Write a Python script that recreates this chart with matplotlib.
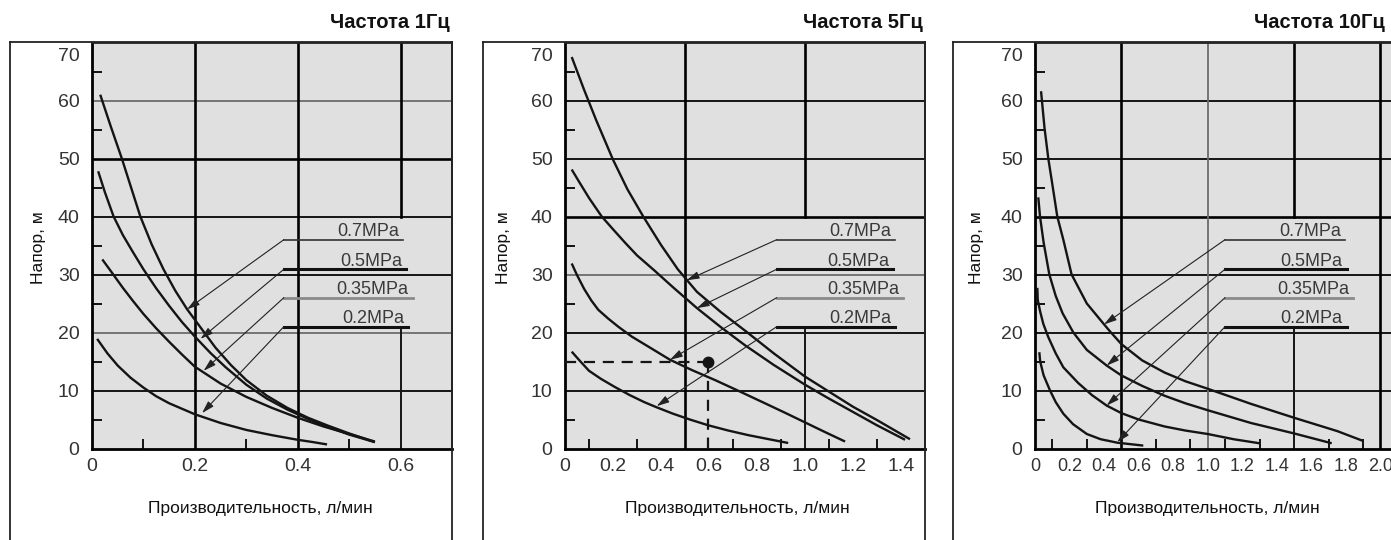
import numpy as np
import matplotlib
matplotlib.use("Agg")
import matplotlib.pyplot as plt
from matplotlib.transforms import offset_copy

plt.rcParams['font.family'] = ['Liberation Sans', 'DejaVu Sans']

W, H = 1391, 540

# ── data ────────────────────────────────────────────────────────────────────
titles = ["Частота 1Гц", "Частота 5Гц", "Частота 10Гц"]
pressures = ["0.7MPa", "0.5MPa", "0.35MPa", "0.2MPa"]
ylabel = "Напор, м"
xlabel = "Производительность, л/мин"

y_ticks = [0, 10, 20, 30, 40, 50, 60, 70]
y_minor = [5, 15, 25, 35, 45, 55, 65]

# 1 Hz
q1_07 = [0.016, 0.037, 0.058, 0.076, 0.094, 0.116, 0.139, 0.162, 0.185, 0.21, 0.24, 0.27, 0.3, 0.34, 0.38, 0.42, 0.46, 0.5, 0.55]
h1_07 = [61.0, 55.4, 50.0, 45.0, 40.0, 35.2, 30.9, 27.2, 24.0, 21.0, 17.4, 14.4, 11.8, 9.1, 7.0, 5.3, 3.9, 2.6, 1.1]
q1_05 = [0.012, 0.025, 0.042, 0.06, 0.08, 0.1, 0.125, 0.15, 0.175, 0.2, 0.23, 0.26, 0.3, 0.34, 0.38, 0.42, 0.46, 0.5, 0.55]
h1_05 = [47.8, 44.2, 40.0, 36.8, 33.8, 30.9, 27.6, 24.6, 21.8, 19.3, 16.5, 14.0, 11.0, 8.6, 6.7, 5.1, 3.7, 2.4, 1.1]
q1_035 = [0.02, 0.034, 0.06, 0.08, 0.1, 0.125, 0.15, 0.175, 0.2, 0.25, 0.3, 0.35, 0.4, 0.45, 0.5, 0.55]
h1_035 = [32.6, 30.9, 27.7, 25.4, 23.2, 20.7, 18.4, 16.2, 14.1, 11.2, 8.9, 7.0, 5.3, 3.8, 2.5, 1.2]
q1_02 = [0.01, 0.03, 0.05, 0.075, 0.1, 0.125, 0.15, 0.2, 0.25, 0.3, 0.35, 0.4, 0.43, 0.457]
h1_02 = [18.9, 16.4, 14.3, 12.2, 10.5, 9.0, 7.8, 5.9, 4.4, 3.2, 2.3, 1.5, 1.1, 0.7]

# 5 Hz
q5_07 = [0.028, 0.08, 0.13, 0.2, 0.26, 0.326, 0.4, 0.47, 0.55, 0.65, 0.757, 0.87, 1.0, 1.1, 1.2, 1.3, 1.4375]
h5_07 = [67.5, 61.8, 56.6, 49.8, 44.7, 40.0, 35.1, 30.9, 27.0, 23.5, 20.1, 16.4, 12.4, 9.8, 7.2, 4.9, 1.6]
q5_05 = [0.028, 0.06, 0.1, 0.153, 0.2, 0.25, 0.3, 0.375, 0.45, 0.55, 0.65, 0.75, 0.87, 1.0, 1.1, 1.2, 1.3, 1.417]
h5_05 = [48.1, 45.9, 43.2, 40.0, 37.8, 35.5, 33.3, 30.6, 27.8, 24.2, 20.9, 17.8, 14.4, 11.0, 8.6, 6.3, 4.0, 1.5]
q5_035 = [0.028, 0.05, 0.08, 0.11, 0.139, 0.18, 0.222, 0.278, 0.35, 0.4375, 0.53, 0.625, 0.73, 0.833, 0.92, 1.0, 1.08, 1.167]
h5_035 = [31.9, 29.9, 27.5, 25.5, 23.9, 22.4, 21.0, 19.3, 17.5, 15.3, 13.5, 11.8, 9.8, 7.8, 6.1, 4.5, 2.9, 1.2]
q5_02 = [0.028, 0.06, 0.1, 0.15, 0.208, 0.27, 0.33, 0.382, 0.45, 0.52, 0.597, 0.68, 0.764, 0.85, 0.93]
h5_02 = [16.7, 15.2, 13.4, 12.0, 10.6, 9.2, 8.0, 7.1, 6.0, 5.0, 4.0, 3.1, 2.3, 1.6, 0.95]
op_q, op_h = 0.595, 15.0   # operating point marked with dashed lines

# 10 Hz
q10_07 = [0.035, 0.055, 0.077, 0.097, 0.129, 0.164, 0.212, 0.3, 0.4, 0.434, 0.5, 0.62, 0.75, 0.87, 1.0, 1.25, 1.5, 1.75, 1.9]
h10_07 = [61.6, 55.3, 50.0, 46.2, 40.0, 36.0, 30.0, 25.0, 21.4, 20.2, 18.0, 15.2, 13.1, 11.6, 10.3, 7.7, 5.3, 3.0, 1.3]
q10_05 = [0.019, 0.029, 0.05, 0.083, 0.12, 0.16, 0.222, 0.3, 0.415, 0.5, 0.62, 0.75, 0.87, 1.0, 1.25, 1.5, 1.718]
h10_05 = [43.3, 40.0, 35.5, 30.0, 26.3, 23.3, 20.0, 17.0, 14.3, 12.6, 10.8, 9.1, 7.8, 6.6, 4.4, 2.6, 0.9]
q10_035 = [0.0135, 0.016, 0.03, 0.048, 0.077, 0.12, 0.164, 0.25, 0.33, 0.415, 0.5, 0.6, 0.75, 0.87, 1.0, 1.15, 1.3]
h10_035 = [27.7, 25.6, 23.6, 21.5, 19.2, 16.4, 14.0, 11.3, 9.2, 7.4, 6.1, 5.0, 3.8, 3.1, 2.5, 1.6, 0.9]
q10_02 = [0.025, 0.03, 0.05, 0.087, 0.12, 0.164, 0.22, 0.3, 0.38, 0.477, 0.627]
h10_02 = [16.6, 15.0, 12.6, 10.0, 8.0, 6.0, 4.2, 2.5, 1.6, 1.0, 0.5]

# label underlines (y in m) and arrow tips on the curves
label_h = [36.0, 30.9, 26.0, 21.0]
tips1 = [(0.185, 24.0), (0.211, 18.9), (0.217, 13.4), (0.214, 6.1)]
tips5 = [(0.507, 29.0), (0.549, 24.2), (0.4375, 15.3), (0.382, 7.3)]
tips10 = [(0.40, 21.4), (0.415, 14.3), (0.415, 7.4), (0.477, 1.1)]

panels = [
    dict(title=titles[0], curves=[(q1_07, h1_07), (q1_05, h1_05), (q1_035, h1_035), (q1_02, h1_02)],
         tips=tips1, xmax=0.7, ax_left=92, ax_w=360, box=(10, 452), title_x=450,
         ylab_x=38, xlab_x=260, xtl_size=14,
         xt=[0, 0.2, 0.4, 0.6], xtl=["0", "0.2", "0.4", "0.6"],
         xminor=[0.1, 0.3, 0.5],
         ul_left=0.373, ul_right=[0.605, 0.611, 0.624, 0.615],
         hgrid={10: 'k', 20: 'g', 30: 'k', 40: 'k', 50: 'K', 60: 'g'},
         vgrid={0.2: 'K', 0.4: 'K'}, vbroken=[0.6]),
    dict(title=titles[1], curves=[(q5_07, h5_07), (q5_05, h5_05), (q5_035, h5_035), (q5_02, h5_02)],
         tips=tips5, xmax=1.5, ax_left=565, ax_w=360, box=(483, 925), title_x=923,
         ylab_x=503, xlab_x=737, xtl_size=14,
         xt=[0, 0.2, 0.4, 0.6, 0.8, 1.0, 1.2, 1.4],
         xtl=["0", "0.2", "0.4", "0.6", "0.8", "1.0", "1.2", "1.4"],
         xminor=[0.1, 0.2, 0.3, 0.4, 0.6, 0.7, 0.8, 0.9, 1.1, 1.2, 1.3, 1.4],
         ul_left=0.882, ul_right=[1.375, 1.368, 1.41, 1.375],
         hgrid={10: 'k', 20: 'k', 30: 'g', 40: 'K', 50: 'k', 60: 'k'},
         vgrid={0.5: 'K'}, vbroken=[1.0]),
    dict(title=titles[2], curves=[(q10_07, h10_07), (q10_05, h10_05), (q10_035, h10_035), (q10_02, h10_02)],
         tips=tips10, xmax=2.1, ax_left=1035, ax_w=362.7, box=(953, None), title_x=1385,
         ylab_x=977, xlab_x=1207, xtl_size=13,
         xt=[0, 0.2, 0.4, 0.6, 0.8, 1.0, 1.2, 1.4, 1.6, 1.8, 2.0],
         xtl=["0", "0.2", "0.4", "0.6", "0.8", "1.0", "1.2", "1.4", "1.6", "1.8", "2.0"],
         xminor=[0.1, 0.2, 0.3, 0.4, 0.6, 0.7, 0.8, 0.9, 1.1, 1.2, 1.3, 1.4, 1.6, 1.7, 1.8, 1.9],
         ul_left=1.10, ul_right=[1.795, 1.805, 1.843, 1.805],
         hgrid={10: 'k', 20: 'k', 30: 'k', 40: 'K', 50: 'k', 60: 'k'},
         vgrid={0.5: 'K', 1.0: 'g', 2.0: 'K'}, vbroken=[1.5]),
]

grid_style = {'k': dict(color='#151515', lw=1.4),
              'K': dict(color='#000000', lw=1.9),
              'g': dict(color='#6c6c6c', lw=1.3)}
ul_style = [dict(color='#333333', lw=1.2), dict(color='#111111', lw=2.2),
            dict(color='#8a8a8a', lw=2.0), dict(color='#111111', lw=2.2)]

AX_TOP, AX_H = 42.5, 406.0
BG = '#e0e0e0'
INK = '#141414'

fig = plt.figure(figsize=(W / 100, H / 100), dpi=100)

for p in panels:
    # outer frame of the panel
    bl, br = p['box']
    ytop = 1 - 42 / H
    fig.add_artist(plt.Line2D([bl / W, bl / W], [-0.05, ytop], color='#222', lw=1.3))
    xr = (br if br is not None else W + 10) / W
    fig.add_artist(plt.Line2D([bl / W, xr], [ytop, ytop], color='#222', lw=1.3))
    if br is not None:
        fig.add_artist(plt.Line2D([br / W, br / W], [-0.05, ytop], color='#222', lw=1.3))

    fig.text(p['title_x'] / W, 1 - 23 / H, p['title'], ha='right', va='center',
             fontsize=14.5, fontweight='bold', color='#111')
    fig.text(p['ylab_x'] / W, 1 - 248 / H, ylabel, rotation=90, ha='center',
             va='center', fontsize=12.5, color='#111')
    fig.text(p['xlab_x'] / W, 1 - 508 / H, xlabel, ha='center', va='center',
             fontsize=12.5, color='#111')

    ax = fig.add_axes([p['ax_left'] / W, 1 - (AX_TOP + AX_H) / H, p['ax_w'] / W, AX_H / H])
    ax.set_facecolor(BG)
    ax.set_xlim(0, p['xmax'])
    ax.set_ylim(0, 70)

    for v, s in p['hgrid'].items():
        ax.axhline(v, zorder=1, **grid_style[s])
    for v, s in p['vgrid'].items():
        ax.axvline(v, zorder=1, **grid_style[s])
    for v in p['vbroken']:
        ax.plot([v, v], [40, 70], zorder=1, **grid_style['K'])
        ax.plot([v, v], [0, 20.5], zorder=1, **grid_style['k'])

    for spine in ['left', 'bottom']:
        ax.spines[spine].set_linewidth(2.0)
        ax.spines[spine].set_color('#000')
    for spine in ['top', 'right']:
        ax.spines[spine].set_linewidth(1.3)
        ax.spines[spine].set_color('#222')

    ax.set_yticks(y_ticks)
    ax.set_yticklabels([str(v) for v in y_ticks])
    ax.set_yticks(y_minor, minor=True)
    ax.set_xticks(p['xt'])
    ax.set_xticklabels(p['xtl'])
    ax.set_xticks(p['xminor'], minor=True)
    ax.tick_params(which='major', length=0, labelsize=14, labelcolor='#333')
    ax.tick_params(axis='x', which='major', labelsize=p['xtl_size'], pad=7)
    ax.tick_params(axis='y', which='major', pad=9)
    ax.tick_params(which='minor', direction='in', length=7, width=1.4, color='#111')
    # the top label "70" sits a little below its value, inside the frame
    top_lab = ax.yaxis.get_major_ticks()[-1].label1
    top_lab.set_transform(offset_copy(top_lab.get_transform(), fig=fig, y=-12, units='dots'))

    for q, h in p['curves']:
        ax.plot(q, h, color=INK, lw=1.7, zorder=3, solid_capstyle='butt')

    for i, name in enumerate(pressures):
        yu = label_h[i]
        ax.plot([p['ul_left'], p['ul_right'][i]], [yu, yu], zorder=4, **ul_style[i])
        ax.annotate(name, xy=(p['ul_right'][i], yu), xytext=(-3, 2.5),
                    textcoords='offset points', ha='right', va='baseline',
                    fontsize=13, color='#3a3a3a', zorder=5)
        ax.annotate('', xy=p['tips'][i], xytext=(p['ul_left'], yu),
                    arrowprops=dict(arrowstyle='-|>,head_length=0.75,head_width=0.22',
                                    color='#222', lw=0.8, shrinkA=0, shrinkB=0),
                    zorder=5)

    if p['title'] == titles[1]:
        ax.plot([0, op_q], [op_h, op_h], color=INK, lw=1.6, ls=(0, (5, 3.5)), zorder=3)
        ax.plot([op_q, op_q], [op_h, 0], color=INK, lw=1.6, ls=(0, (5, 3.5)), zorder=3)
        ax.plot([op_q], [op_h], 'o', ms=7.5, color=INK, zorder=4)

fig.savefig("out.png", dpi=100)
